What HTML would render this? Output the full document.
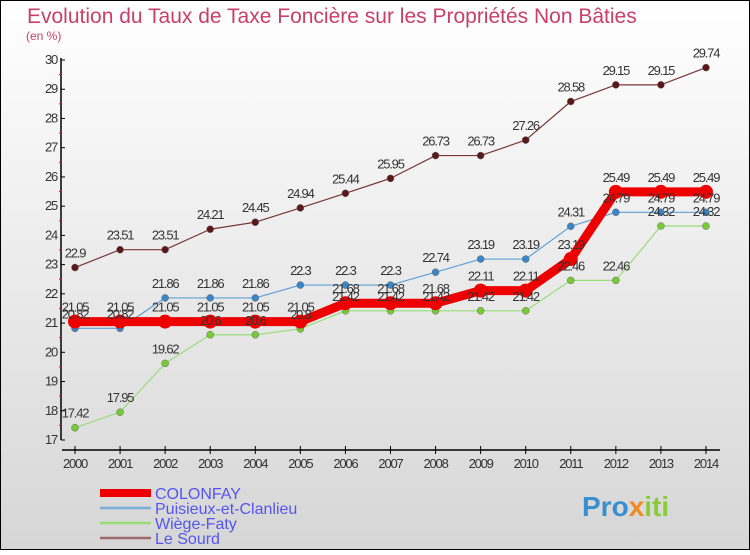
<!DOCTYPE html>
<html><head><meta charset="utf-8"><style>
html,body{margin:0;padding:0}
body{width:750px;height:550px;overflow:hidden;font-family:"Liberation Sans",sans-serif}
</style></head><body>
<svg id="c" width="750" height="550" xmlns="http://www.w3.org/2000/svg">
<defs><linearGradient id="bg" x1="0" y1="0" x2="0" y2="1"><stop offset="0" stop-color="#ffffff"/><stop offset="1" stop-color="#d6d6d6"/></linearGradient></defs>
<rect x="0.5" y="0.5" width="749" height="549" fill="url(#bg)" stroke="#000"/>
<text x="27" y="23" font-size="21" fill="#c8406a">Evolution du Taux de Taxe Foncière sur les Propriétés Non Bâties</text>
<text x="26" y="40" font-size="12" fill="#c8406a">(en %)</text>
<g id="axes"></g><g id="series"></g><g id="legend"></g>
<text x="582" y="516" font-size="28" font-weight="bold" fill="#3a8fd0">Pro<tspan fill="#f08a20">x</tspan><tspan fill="#8acb3a">iti</tspan></text>
</svg>
<script>
const years=["2000","2001","2002","2003","2004","2005","2006","2007","2008","2009","2010","2011","2012","2013","2014"];
const yTicks=[17,18,19,20,21,22,23,24,25,26,27,28,29,30];
const colonfay=[21.05,21.05,21.05,21.05,21.05,21.05,21.68,21.68,21.68,22.11,22.11,23.19,25.49,25.49,25.49];
const puisieux=[20.82,20.82,21.86,21.86,21.86,22.3,22.3,22.3,22.74,23.19,23.19,24.31,24.79,24.79,24.79];
const wiege=[17.42,17.95,19.62,20.6,20.6,20.8,21.42,21.42,21.42,21.42,21.42,22.46,22.46,24.32,24.32];
const lesourd=[22.9,23.51,23.51,24.21,24.45,24.94,25.44,25.95,26.73,26.73,27.26,28.58,29.15,29.15,29.74];
const seriesNames=["COLONFAY","Puisieux-et-Clanlieu","Wiège-Faty","Le Sourd"];
const NS="http://www.w3.org/2000/svg";
const X=i=>75+i*45.07;
const Y=v=>60+(30-v)*29.23;
function mk(tag,attrs,parent){const e=document.createElementNS(NS,tag);for(const k in attrs)e.setAttribute(k,attrs[k]);parent.appendChild(e);return e;}
const ax=document.getElementById('axes');
let l=mk('line',{x1:61,y1:58,x2:61,y2:440,stroke:'#000','stroke-width':1.5},ax);


l=mk('line',{x1:62,y1:450,x2:720,y2:450,stroke:'#000','stroke-width':1.5},ax);


yTicks.forEach(v=>{
  mk('line',{x1:61,y1:Y(v),x2:65,y2:Y(v),stroke:'#000'},ax);
  if(v<30)mk('line',{x1:59,y1:Y(v+0.5),x2:62,y2:Y(v+0.5),stroke:'#f00'},ax);
  const t=mk('text',{x:57,y:Y(v)+4,'font-size':13,fill:'#333','text-anchor':'end','letter-spacing':'-1.2'},ax);
  t.textContent=v;
  
  
});
years.forEach((y,i)=>{
  mk('line',{x1:X(i),y1:446,x2:X(i),y2:454,stroke:'#000'},ax);
  const t=mk('text',{x:X(i),y:468,'font-size':13,fill:'#333','text-anchor':'middle','letter-spacing':'-1.2'},ax);
  t.textContent=y;
  
  
});
const sg=document.getElementById('series');
const defs=[
  [lesourd,'#7a3636','#5a1818',1.2,3.5,'series-le-sourd'],
  [wiege,'#99dd77','#77cc33',1.2,3.5,'series-wiege-faty'],
  [puisieux,'#5fa0d6','#3a86c8',1.2,3.5,'series-puisieux'],
  [colonfay,'#ee0000','#ee0000',9,7,'series-colonfay']
];
const labelOrder=[];
defs.forEach(([data,lc,pc,w,r,name])=>{
  const g=mk('g',{},sg);
  
  
  const p=mk('polyline',{points:data.map((v,i)=>X(i)+','+Y(v)).join(' '),fill:'none',stroke:lc,'stroke-width':w,'stroke-linejoin':'round'},g);
  
  
  data.forEach((v,i)=>{
    const c=mk('circle',{cx:X(i),cy:Y(v),r:r,fill:pc,stroke:w>2?'none':'#666','stroke-width':0.5},g);
    
    
  });
  labelOrder.push(data);
});
const lg=mk('g',{},sg);
labelOrder.forEach(data=>{
  data.forEach((v,i)=>{
    const t=mk('text',{x:X(i),y:Y(v)-10,'font-size':13,fill:'#333','text-anchor':'middle','letter-spacing':'-1.2'},lg);
    t.textContent=String(v);
    
    
  });
});
const leg=document.getElementById('legend');
const lcols=['#ee0000','#7aaed6','#99dd77','#9a6a6a'];
const lws=[8,2.5,2.5,2.5];
seriesNames.forEach((n,i)=>{
  const y=493+i*15;
  const g=mk('g',{},leg);
  
  
  mk('line',{x1:100,y1:y,x2:151,y2:y,stroke:lcols[i],'stroke-width':lws[i]},g);
  const t=mk('text',{x:155,y:y+6,'font-size':16,fill:'#5555ee'},g);
  t.textContent=n;
});
</script>
</body></html>
